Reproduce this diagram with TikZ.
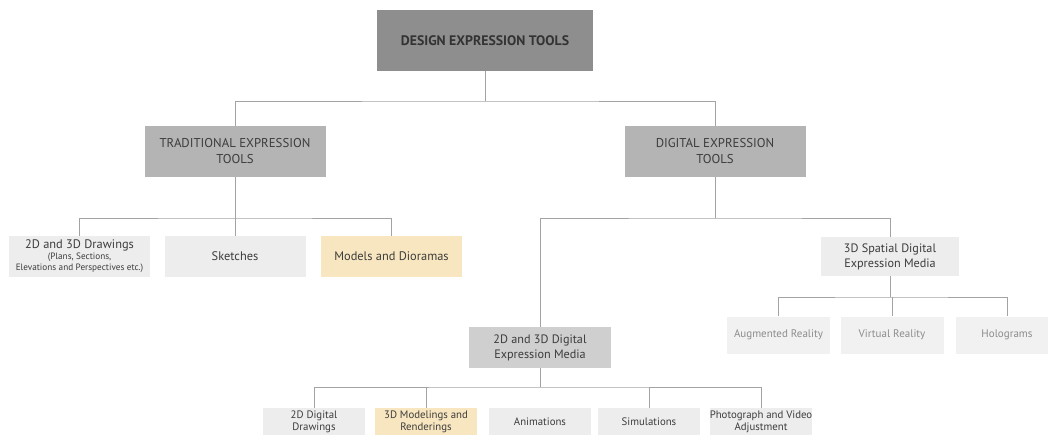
\documentclass[tikz,border=0pt]{standalone}
\usepackage{fontspec}
\setmainfont{PT Sans}
\definecolor{topgray}{HTML}{8E8E8E}
\definecolor{lonegray}{HTML}{B4B4B4}
\definecolor{midgray}{HTML}{CFCFCF}
\definecolor{lightgray}{HTML}{EDEDED}
\definecolor{paleyellow}{HTML}{F8E6C0}
\definecolor{linegray}{HTML}{A3A3A3}
\definecolor{txt}{HTML}{3C3C3C}
\definecolor{paletxt}{HTML}{8C8C8C}
\tikzset{
  box/.style={inner sep=0pt, align=center, text=txt},
  topbox/.style={box, fill=topgray, minimum width=216pt, minimum height=61pt, font=\fontsize{13.8}{15}\selectfont\bfseries, text=black!80},
  lonebox/.style={box, fill=lonegray, minimum width=181pt, minimum height=51pt, font=\fontsize{12.8}{16}\selectfont},
  ltwobox/.style={box, fill=lightgray, minimum width=141pt, minimum height=41pt, font=\fontsize{12.4}{13}\selectfont},
  midbox/.style={box, fill=midgray, minimum width=142pt, minimum height=41pt, font=\fontsize{12.2}{15}\selectfont},
  spbox/.style={box, fill=lightgray, minimum width=138pt, minimum height=39pt, font=\fontsize{12.2}{15}\selectfont},
  arbox/.style={box, fill=lightgray!80!white, minimum width=103pt, minimum height=37pt, font=\fontsize{11}{12}\selectfont, text=paletxt},
  botbox/.style={box, fill=lightgray, minimum width=102pt, minimum height=28pt, font=\fontsize{10.8}{12}\selectfont},
  hl/.style={fill=paleyellow},
  conn/.style={draw=linegray, line width=0.9pt}
}
\begin{document}
\begin{tikzpicture}[x=1pt,y=-1pt]
\useasboundingbox[fill=white] (0,0) rectangle (1048,434);
\clip (0,0) rectangle (1048,434);
% nodes
\node[topbox] (top) at (485,40.5) {DESIGN EXPRESSION TOOLS};
\node[lonebox] (trad) at (235,151.5) {TRADITIONAL EXPRESSION\\TOOLS};
\node[lonebox] (digi) at (715,151.5) {DIGITAL EXPRESSION\\TOOLS};
\node[ltwobox] (draw) at (79.5,256.5) {2D and 3D Drawings\\[-2pt]{\fontsize{9.2}{10}\selectfont (Plans, Sections,}\\[-2pt]{\fontsize{9.2}{10}\selectfont Elevations and Perspectives etc.)}};
\node[ltwobox] (sketch) at (235,256.5) {Sketches};
\node[ltwobox,hl] (models) at (391.5,256.5) {Models and Dioramas};
\node[spbox] (spatial) at (890,256.5) {3D Spatial Digital\\Expression Media};
\node[arbox] (ar) at (778.5,335) {Augmented Reality};
\node[arbox] (vr) at (892,335) {Virtual Reality};
\node[arbox] (holo) at (1007,335) {Holograms};
\node[midbox] (dig2d) at (540,347.5) {2D and 3D Digital\\Expression Media};
\node[botbox] (b1) at (314,422) {2D Digital\\Drawings};
\node[botbox,hl] (b2) at (426,422) {3D Modelings and\\Renderings};
\node[botbox] (b3) at (540,422) {Animations};
\node[botbox] (b4) at (649,422) {Simulations};
\node[botbox] (b5) at (761,422) {Photograph and Video\\Adjustment};
% bus coordinates
\coordinate (topbus) at (485,101);
\coordinate (tbus) at (235,218);
\coordinate (dbus) at (715,218);
\coordinate (sbus) at (890,297);
\coordinate (bbus) at (540,387);
% connectors
\draw[conn] (top.south) -- (topbus);
\draw[conn] (trad.north) |- (topbus) -| (digi.north);
\draw[conn] (trad.south) -- (tbus);
\draw[conn] (draw.north) |- (tbus) -| (models.north);
\draw[conn] (sketch.north) -- (sketch.north |- tbus);
\draw[conn] (digi.south) -- (dbus);
\draw[conn] (dig2d.north) |- (dbus) -| (spatial.north);
\draw[conn] (spatial.south) -- (sbus);
\draw[conn] (ar.north) |- (sbus) -| (holo.north);
\draw[conn] (vr.north) -- (vr.north |- sbus);
\draw[conn] (dig2d.south) -- (bbus);
\draw[conn] (b1.north) |- (bbus) -| (b5.north);
\draw[conn] (b2.north) -- (b2.north |- bbus);
\draw[conn] (b4.north) -- (b4.north |- bbus);
\end{tikzpicture}
\end{document}
